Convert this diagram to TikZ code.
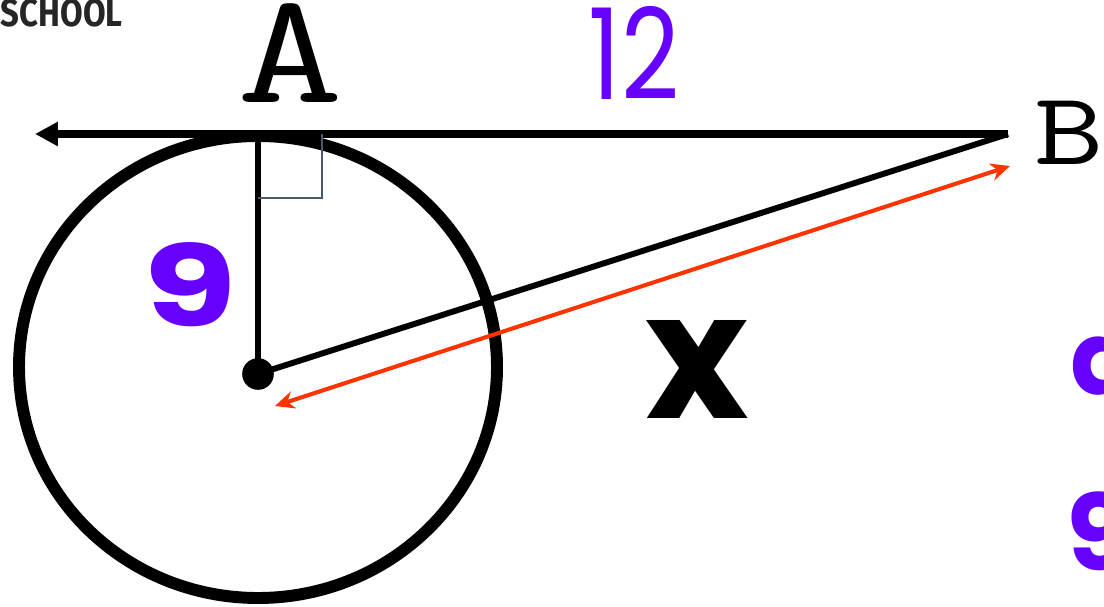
\documentclass[tikz,border=0pt]{standalone}
\usepackage{fontspec}
\usetikzlibrary{arrows.meta}

\newfontfamily\roundfont{Poppins}
\newfontfamily\labelfont{Fira Sans}

\definecolor{mathpurple}{RGB}{102,0,255}
\definecolor{arrowred}{RGB}{255,51,0}
\definecolor{markgray}{RGB}{74,88,110}

\begin{document}
\begin{tikzpicture}[
    x=0.02cm, y=-0.02cm,
    thick_circle/.style={line width=6.8pt, black},
    tangent/.style={line width=4pt, -{Triangle[length=13pt, width=13pt]}},
    segment/.style={line width=3.4pt},
    measure/.style={line width=2.3pt, arrowred, {Stealth[length=11pt, width=10pt]}-{Stealth[length=11pt, width=10pt]}},
    right_mark/.style={line width=0.85pt, markgray},
    point_label/.style={inner sep=0pt, xscale=1.3},
    value_label/.style={inner sep=0pt, text=mathpurple},
]

    % --- FRAME (reference is 1104 x 607 px) ---
    \useasboundingbox (0,0) rectangle (1104,607);

    % --- KEY POINTS ---
    \coordinate (A) at (258,134);
    \coordinate (B) at (1008,134);
    \coordinate (L) at (35,134);
    \node[circle, fill=black, minimum size=18pt, inner sep=0pt] (O) at (258,374) {};

    % --- CIRCLE AND LINES ---
    \draw[thick_circle] (258,367) ellipse [x radius=239, y radius=231];
    \draw[tangent] (B) -- (L);
    \draw[segment] (O.center) -- (A);
    \draw[segment] (O.center) -- (B);

    % right angle mark at A
    \coordinate (M1) at (258,198);
    \coordinate (M2) at (322,198);
    \coordinate (M3) at (322,134);
    \draw[right_mark] (M1) -- (M2) -- (M3);

    % --- RED MEASURE ARROW ---
    \coordinate (R1) at (1010,166);
    \coordinate (R2) at (275,406);
    \draw[measure] (R2) -- (R1);

    % --- LABELS ---
    \node[point_label, anchor=base] (labelA) at (290,103) {\ttfamily\fontsize{90}{90}\selectfont A};
    \node[point_label, anchor=base west] (labelB) at (1034,165) {\ttfamily\fontsize{59}{59}\selectfont B};
    \node[value_label, anchor=base, xscale=0.8] (len12) at (634,100) {\roundfont\fontsize{72}{72}\selectfont 12};
    \node[value_label, anchor=base, xscale=1.35] (len9) at (190,327) {\roundfont\bfseries\fontsize{64}{64}\selectfont 9};
    \node[inner sep=0pt, anchor=base] (lenx) at (697,418) {\roundfont\bfseries\fontsize{100}{100}\selectfont x};
    \node[inner sep=0pt, anchor=base east, text=black!85, xscale=0.85] (school) at (123,27) {\labelfont\bfseries\fontsize{22}{22}\selectfont SCHOOL};

    % cut-off working on the right edge
    \node[value_label, anchor=base west] (eq1) at (1070,395) {\roundfont\bfseries\fontsize{58}{58}\selectfont a};
    \node[value_label, anchor=base west] (eq2) at (1066,570) {\roundfont\bfseries\fontsize{60}{60}\selectfont 9};

\end{tikzpicture}
\end{document}
